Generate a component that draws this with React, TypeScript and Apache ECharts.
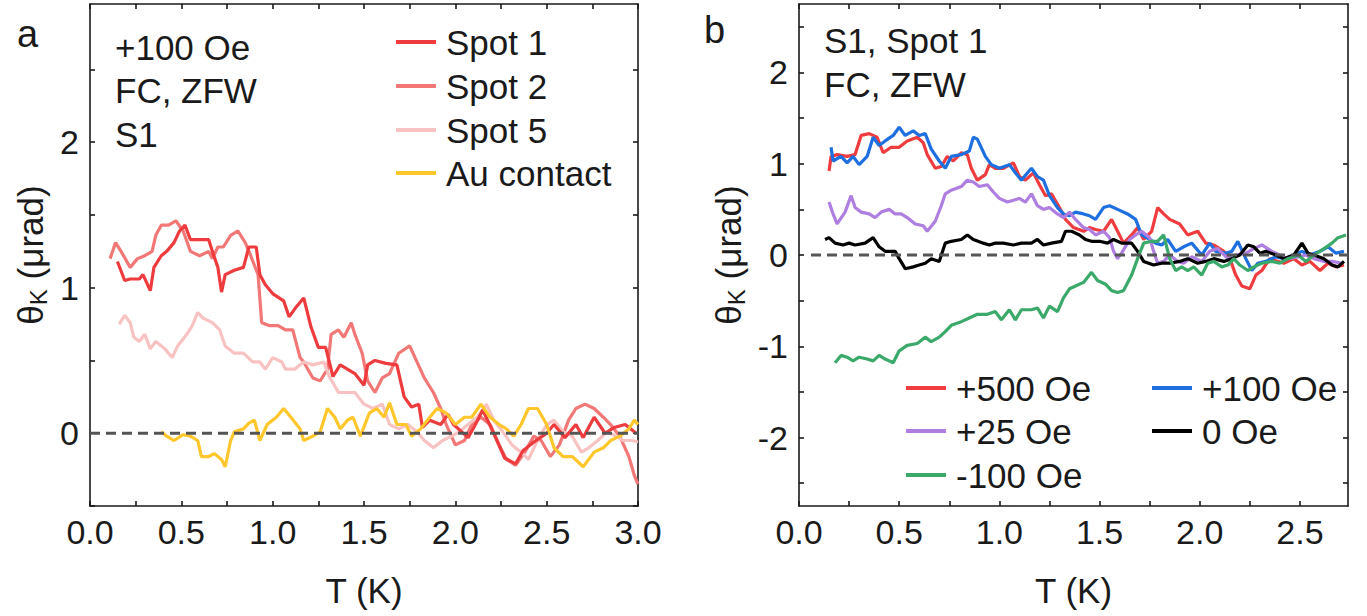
import React, { useEffect, useRef } from "react";
import * as echarts from "echarts";

const FONT = 'Arial, "Liberation Sans", Helvetica, sans-serif';

// ---------- Panel a data: [T (K), theta_K (µrad)] ----------
const spot1 = [[0.15,1.18],[0.19,1.05],[0.22,1.06],[0.27,1.06],[0.29,1.09],[0.33,0.98],[0.35,1.14],[0.39,1.22],[0.42,1.25],[0.46,1.31],[0.49,1.39],[0.52,1.43],[0.55,1.33],[0.60,1.33],[0.65,1.33],[0.67,1.25],[0.70,1.14],[0.72,0.97],[0.74,1.09],[0.79,1.12],[0.84,1.14],[0.87,1.28],[0.91,1.28],[0.93,1.09],[0.96,1.02],[1.00,0.96],[1.06,0.91],[1.09,0.80],[1.13,0.87],[1.17,0.93],[1.21,0.73],[1.25,0.59],[1.29,0.59],[1.33,0.39],[1.37,0.47],[1.45,0.41],[1.50,0.33],[1.52,0.47],[1.56,0.50],[1.62,0.48],[1.68,0.47],[1.72,0.25],[1.76,0.18],[1.80,0.20],[1.82,0.04],[1.86,0.09],[1.92,0.06],[1.96,0.13],[1.99,0.06],[2.07,-0.03],[2.11,0.06],[2.15,0.16],[2.21,0.00],[2.27,-0.17],[2.33,-0.21],[2.37,-0.12],[2.42,-0.07],[2.50,0.00],[2.54,0.06],[2.60,-0.03],[2.66,0.06],[2.70,-0.03],[2.76,0.11],[2.82,0.00],[2.87,0.04],[2.93,0.06],[2.99,0.00]];
const spot2 = [[0.11,1.20],[0.14,1.31],[0.17,1.25],[0.22,1.14],[0.26,1.20],[0.30,1.22],[0.34,1.25],[0.36,1.36],[0.39,1.43],[0.43,1.43],[0.47,1.46],[0.51,1.39],[0.55,1.25],[0.60,1.22],[0.65,1.25],[0.67,1.20],[0.70,1.28],[0.73,1.28],[0.77,1.36],[0.81,1.39],[0.85,1.31],[0.88,1.22],[0.92,1.09],[0.94,0.76],[0.98,0.74],[1.03,0.74],[1.07,0.71],[1.11,0.71],[1.15,0.52],[1.17,0.49],[1.22,0.38],[1.26,0.36],[1.30,0.44],[1.32,0.68],[1.36,0.71],[1.39,0.66],[1.43,0.76],[1.45,0.68],[1.49,0.55],[1.52,0.36],[1.56,0.28],[1.60,0.38],[1.64,0.41],[1.69,0.55],[1.75,0.60],[1.79,0.49],[1.83,0.38],[1.88,0.28],[1.92,0.17],[1.95,0.06],[2.00,-0.08],[2.05,-0.05],[2.09,0.06],[2.14,0.11],[2.19,0.06],[2.24,-0.08],[2.28,-0.18],[2.33,-0.22],[2.38,-0.13],[2.43,-0.02],[2.47,-0.05],[2.52,-0.16],[2.57,-0.08],[2.62,0.09],[2.66,0.17],[2.71,0.20],[2.76,0.17],[2.81,0.11],[2.85,0.06],[2.90,-0.02],[2.95,-0.16],[2.98,-0.29],[3.00,-0.35]];
const spot5 = [[0.16,0.75],[0.19,0.81],[0.22,0.76],[0.24,0.66],[0.27,0.63],[0.30,0.68],[0.33,0.58],[0.36,0.63],[0.41,0.58],[0.45,0.52],[0.48,0.60],[0.53,0.68],[0.56,0.74],[0.59,0.83],[0.62,0.79],[0.67,0.76],[0.71,0.71],[0.74,0.60],[0.79,0.55],[0.84,0.55],[0.89,0.49],[0.93,0.49],[0.96,0.44],[1.00,0.52],[1.05,0.49],[1.07,0.44],[1.12,0.44],[1.17,0.49],[1.22,0.47],[1.28,0.49],[1.31,0.39],[1.36,0.28],[1.41,0.28],[1.45,0.28],[1.50,0.20],[1.55,0.17],[1.60,0.20],[1.64,0.06],[1.69,0.03],[1.74,0.06],[1.79,0.01],[1.83,-0.05],[1.88,-0.10],[1.93,-0.05],[1.98,-0.02],[2.02,0.01],[2.07,0.06],[2.12,0.11],[2.17,0.20],[2.21,0.09],[2.26,0.01],[2.31,-0.08],[2.36,-0.13],[2.40,-0.18],[2.45,-0.05],[2.50,0.06],[2.54,0.09],[2.59,0.01],[2.64,-0.02],[2.69,-0.13],[2.73,-0.10],[2.78,-0.05],[2.83,0.01],[2.88,-0.02],[2.92,-0.05],[2.97,-0.05],[3.00,-0.06]];
const auContact = [[0.39,0.01],[0.42,-0.02],[0.46,-0.05],[0.51,-0.01],[0.55,-0.02],[0.59,-0.05],[0.61,-0.16],[0.65,-0.16],[0.68,-0.14],[0.72,-0.18],[0.74,-0.23],[0.77,-0.05],[0.79,0.01],[0.84,0.03],[0.87,0.07],[0.90,0.09],[0.93,-0.05],[0.97,0.06],[1.02,0.11],[1.06,0.17],[1.10,0.11],[1.15,0.03],[1.17,-0.05],[1.22,-0.02],[1.26,0.01],[1.30,0.17],[1.34,0.11],[1.37,0.03],[1.41,0.09],[1.44,0.11],[1.48,-0.02],[1.53,0.14],[1.57,0.17],[1.61,0.11],[1.64,0.21],[1.68,0.06],[1.73,0.06],[1.76,-0.02],[1.81,0.03],[1.86,0.11],[1.90,0.17],[1.95,0.14],[2.00,0.06],[2.05,0.11],[2.09,0.11],[2.14,0.20],[2.19,0.11],[2.24,0.06],[2.28,0.03],[2.32,-0.02],[2.36,0.06],[2.40,0.17],[2.45,0.17],[2.50,0.06],[2.54,-0.10],[2.59,-0.16],[2.64,-0.16],[2.70,-0.23],[2.76,-0.13],[2.81,-0.10],[2.85,-0.05],[2.90,-0.02],[2.95,0.03],[2.98,0.09],[3.00,0.06]];
const zeroA = [[0,0],[3,0]];

// ---------- Panel b data ----------
const oe500 = [[0.15,0.92],[0.16,1.08],[0.19,1.10],[0.24,1.08],[0.28,1.10],[0.31,1.31],[0.35,1.33],[0.39,1.29],[0.42,1.12],[0.46,1.18],[0.50,1.18],[0.54,1.25],[0.59,1.29],[0.62,1.23],[0.64,1.10],[0.68,0.95],[0.71,0.97],[0.74,1.08],[0.77,1.03],[0.81,1.12],[0.84,1.10],[0.86,0.95],[0.89,0.82],[0.93,0.88],[0.95,0.99],[0.98,0.95],[1.02,0.95],[1.07,1.01],[1.10,0.86],[1.13,0.82],[1.17,0.90],[1.20,0.77],[1.23,0.65],[1.26,0.67],[1.30,0.52],[1.33,0.39],[1.37,0.30],[1.42,0.26],[1.45,0.30],[1.48,0.28],[1.52,0.26],[1.56,0.39],[1.59,0.26],[1.62,0.13],[1.66,0.22],[1.69,0.30],[1.72,0.17],[1.76,0.26],[1.79,0.52],[1.82,0.45],[1.85,0.39],[1.90,0.34],[1.94,0.22],[1.99,0.26],[2.03,0.13],[2.07,0.11],[2.12,0.04],[2.15,-0.04],[2.18,-0.22],[2.21,-0.34],[2.25,-0.37],[2.28,-0.22],[2.31,-0.17],[2.35,-0.04],[2.39,-0.07],[2.42,-0.09],[2.47,-0.04],[2.51,-0.11],[2.55,-0.07],[2.60,-0.17],[2.64,-0.09],[2.68,-0.13],[2.72,-0.11]];
const oe100 = [[0.16,1.18],[0.17,1.03],[0.21,1.08],[0.24,1.01],[0.27,1.08],[0.30,0.99],[0.34,1.08],[0.37,1.29],[0.40,1.20],[0.43,1.25],[0.47,1.31],[0.50,1.40],[0.53,1.31],[0.57,1.36],[0.60,1.31],[0.63,1.33],[0.66,1.16],[0.70,1.03],[0.73,0.95],[0.76,1.08],[0.81,1.10],[0.85,1.14],[0.87,1.29],[0.89,1.27],[0.93,1.08],[0.96,0.99],[1.00,0.95],[1.05,0.99],[1.08,0.90],[1.11,0.82],[1.16,0.95],[1.19,0.86],[1.22,0.82],[1.25,0.65],[1.29,0.52],[1.32,0.45],[1.35,0.43],[1.38,0.47],[1.42,0.45],[1.45,0.43],[1.48,0.39],[1.52,0.52],[1.55,0.54],[1.59,0.50],[1.64,0.45],[1.68,0.39],[1.71,0.22],[1.75,0.17],[1.78,0.13],[1.81,0.11],[1.84,0.17],[1.88,0.04],[1.92,0.09],[1.96,0.13],[2.01,0.00],[2.05,0.13],[2.08,0.04],[2.13,0.02],[2.16,0.04],[2.19,0.15],[2.23,-0.04],[2.26,-0.17],[2.29,-0.09],[2.33,-0.07],[2.38,-0.02],[2.42,-0.04],[2.47,0.00],[2.51,0.04],[2.55,0.00],[2.60,0.04],[2.64,0.09],[2.68,0.02],[2.72,0.04]];
const oe25 = [[0.15,0.58],[0.17,0.45],[0.19,0.34],[0.23,0.47],[0.26,0.65],[0.28,0.52],[0.31,0.47],[0.35,0.45],[0.38,0.41],[0.41,0.47],[0.45,0.50],[0.48,0.45],[0.51,0.45],[0.54,0.41],[0.58,0.34],[0.62,0.32],[0.64,0.26],[0.68,0.37],[0.71,0.54],[0.73,0.67],[0.76,0.71],[0.81,0.75],[0.84,0.82],[0.87,0.80],[0.90,0.75],[0.94,0.77],[0.97,0.69],[1.00,0.62],[1.04,0.58],[1.07,0.60],[1.10,0.62],[1.13,0.58],[1.16,0.67],[1.19,0.54],[1.22,0.50],[1.25,0.52],[1.29,0.45],[1.32,0.41],[1.35,0.47],[1.38,0.39],[1.42,0.30],[1.45,0.28],[1.48,0.22],[1.52,0.26],[1.55,0.19],[1.57,0.04],[1.59,-0.04],[1.61,0.02],[1.65,0.17],[1.68,0.22],[1.71,0.26],[1.75,0.19],[1.77,0.04],[1.79,-0.09],[1.82,-0.07],[1.85,0.00],[1.89,-0.07],[1.92,-0.09],[1.96,-0.02],[2.01,-0.07],[2.05,0.04],[2.09,0.07],[2.14,-0.04],[2.18,0.00],[2.23,0.02],[2.27,0.07],[2.31,0.11],[2.36,0.04],[2.40,0.00],[2.44,-0.04],[2.49,-0.02],[2.53,0.00],[2.57,-0.04],[2.62,-0.07],[2.66,-0.07],[2.71,-0.09]];
const oe0 = [[0.13,0.17],[0.15,0.19],[0.18,0.13],[0.22,0.11],[0.25,0.13],[0.28,0.11],[0.33,0.13],[0.37,0.19],[0.40,0.09],[0.43,0.04],[0.48,0.04],[0.50,-0.04],[0.53,-0.15],[0.57,-0.13],[0.60,-0.11],[0.63,-0.09],[0.66,-0.04],[0.70,-0.07],[0.73,0.13],[0.76,0.15],[0.81,0.17],[0.84,0.22],[0.87,0.17],[0.92,0.13],[0.95,0.11],[0.98,0.13],[1.02,0.13],[1.07,0.11],[1.11,0.13],[1.16,0.13],[1.19,0.17],[1.22,0.11],[1.26,0.13],[1.31,0.15],[1.33,0.26],[1.36,0.26],[1.40,0.22],[1.43,0.17],[1.46,0.15],[1.50,0.15],[1.54,0.13],[1.57,0.17],[1.61,0.13],[1.66,0.13],[1.69,0.04],[1.72,-0.07],[1.77,-0.11],[1.81,-0.09],[1.85,-0.09],[1.90,-0.07],[1.94,-0.04],[1.99,-0.09],[2.03,-0.07],[2.07,-0.04],[2.12,-0.07],[2.16,-0.04],[2.20,0.00],[2.24,0.11],[2.27,0.09],[2.30,0.02],[2.33,0.04],[2.38,0.00],[2.42,-0.04],[2.47,0.00],[2.51,0.13],[2.54,0.02],[2.57,0.00],[2.62,-0.04],[2.66,-0.11],[2.69,-0.13],[2.72,-0.07]];
const oeMinus100 = [[0.18,-1.18],[0.21,-1.10],[0.24,-1.12],[0.27,-1.16],[0.30,-1.12],[0.34,-1.14],[0.37,-1.16],[0.40,-1.10],[0.43,-1.14],[0.47,-1.18],[0.50,-1.05],[0.54,-0.99],[0.59,-0.97],[0.63,-0.90],[0.66,-0.95],[0.70,-0.90],[0.73,-0.84],[0.76,-0.77],[0.81,-0.73],[0.85,-0.69],[0.89,-0.65],[0.94,-0.65],[0.98,-0.62],[1.01,-0.71],[1.05,-0.60],[1.08,-0.71],[1.11,-0.60],[1.16,-0.60],[1.19,-0.58],[1.22,-0.69],[1.25,-0.56],[1.29,-0.62],[1.32,-0.47],[1.35,-0.37],[1.38,-0.34],[1.42,-0.30],[1.46,-0.19],[1.49,-0.28],[1.53,-0.32],[1.56,-0.39],[1.59,-0.41],[1.62,-0.39],[1.66,-0.22],[1.69,-0.04],[1.72,0.13],[1.76,0.15],[1.79,0.15],[1.82,0.22],[1.85,-0.04],[1.88,-0.17],[1.91,-0.13],[1.94,-0.17],[1.97,-0.13],[2.01,-0.22],[2.04,-0.09],[2.07,-0.07],[2.11,-0.13],[2.14,-0.11],[2.17,-0.04],[2.20,-0.11],[2.24,-0.17],[2.27,-0.13],[2.31,-0.09],[2.36,-0.07],[2.40,-0.09],[2.44,-0.04],[2.49,0.00],[2.53,-0.07],[2.57,0.00],[2.62,0.07],[2.66,0.13],[2.69,0.19],[2.73,0.22]];
const zeroB = [[0.06,0],[2.74,0]];

// ---------- Axis ticks and labels ----------
const xTicksA = [0,0.25,0.5,0.75,1,1.25,1.5,1.75,2,2.25,2.5,2.75,3];
const xLabelsA = [0,0.5,1,1.5,2,2.5,3];
const yTicksA = [-0.5,0,0.5,1,1.5,2,2.5];
const yLabelsA = [0,1,2];
const xTicksB = [0,0.25,0.5,0.75,1,1.25,1.5,1.75,2,2.25,2.5];
const xLabelsB = [0,0.5,1,1.5,2,2.5];
const yTicksB = [-2.5,-2,-1.5,-1,-0.5,0,0.5,1,1.5,2,2.5];
const yLabelsB = [-2,-1,0,1,2];

const AXIS_COLOR = "#1a1a1a";
const TEXT_COLOR = "#1a1a1a";
const LABEL_SIZE = 34;
const TEXT_SIZE = 35;

function makeAxis(opts: any) {
  const { gridIndex, position, min, max, ticks, labels, fmt, name, nameGap, isX } = opts;
  const showLabels = !!labels;
  const ax: any = {
    type: "value",
    gridIndex,
    position,
    min,
    max,
    splitLine: { show: false },
    axisLine: { show: true, onZero: false, lineStyle: { color: AXIS_COLOR, width: 1.6 } },
    axisTick: {
      show: true,
      inside: true,
      length: 5,
      customValues: ticks,
      lineStyle: { color: AXIS_COLOR, width: 1.6 },
    },
    axisLabel: showLabels
      ? {
          show: true,
          customValues: labels,
          formatter: fmt,
          fontSize: LABEL_SIZE,
          fontFamily: FONT,
          color: TEXT_COLOR,
          margin: isX ? 9 : 11,
        }
      : { show: false },
  };
  if (name) {
    ax.name = name;
    ax.nameLocation = "middle";
    ax.nameGap = nameGap;
    ax.nameTextStyle = isX
      ? { fontSize: TEXT_SIZE, fontFamily: FONT, color: TEXT_COLOR, lineHeight: 40 }
      : {
          fontFamily: FONT,
          color: TEXT_COLOR,
          rich: {
            t: { fontSize: TEXT_SIZE, fontFamily: FONT, color: TEXT_COLOR, lineHeight: 40 },
            s: { fontSize: 24, fontFamily: FONT, color: TEXT_COLOR, lineHeight: 24, verticalAlign: "bottom" },
          },
        };
  }
  return ax;
}

const fmtX = (v: number) => v.toFixed(1);
const fmtY = (v: number) => String(Math.round(v));

function lineSeries(name: string, data: number[][], color: string, xi: number, yi: number, z = 2) {
  return {
    name,
    type: "line",
    data,
    xAxisIndex: xi,
    yAxisIndex: yi,
    symbol: "none",
    showSymbol: false,
    smooth: false,
    z,
    lineStyle: { color, width: 3.2 },
    itemStyle: { color },
    emphasis: { disabled: true },
  };
}

function legendItem(name: string, left: number, top: number) {
  return {
    data: [name],
    left,
    top,
    padding: 0,
    icon: "rect",
    itemWidth: 40,
    itemHeight: 4,
    selectedMode: false,
    textStyle: { fontSize: TEXT_SIZE, fontFamily: FONT, color: TEXT_COLOR, lineHeight: 36, padding: [0, 0, 0, 5] },
  };
}

function txt(text: string, x: number, y: number, size = TEXT_SIZE) {
  return {
    type: "text",
    x,
    y,
    silent: true,
    style: { text, fontSize: size, fontFamily: FONT, fill: TEXT_COLOR, align: "left", verticalAlign: "middle" },
  };
}

const C = {
  spot1: "#EE3B3E",
  spot2: "#F27777",
  spot5: "#F9C2C2",
  au: "#FFC72C",
  oe500: "#EF3D3F",
  oe100: "#1E6FDF",
  oe25: "#AE7EE0",
  oe0: "#000000",
  oeM100: "#3AA96A",
  zero: "#555555",
};

export default function App() {
  const ref = useRef<HTMLDivElement>(null);
  useEffect(() => {
    if (!ref.current) return;
    const chart = echarts.init(ref.current, null, { renderer: "svg" });
    const yName = "{t|θ}{s|K}{t| (μrad)}";
    const option: any = {
      animation: false,
      backgroundColor: "#ffffff",
      textStyle: { fontFamily: FONT },
      grid: [
        { left: 90, top: 4, width: 548, height: 502, containLabel: false },
        { left: 799, top: 4, width: 549, height: 502, containLabel: false },
      ],
      xAxis: [
        makeAxis({ gridIndex: 0, position: "bottom", min: 0, max: 3, ticks: xTicksA, labels: xLabelsA, fmt: fmtX, name: "T (K)", nameGap: 64, isX: true }),
        makeAxis({ gridIndex: 0, position: "top", min: 0, max: 3, ticks: xTicksA, isX: true }),
        makeAxis({ gridIndex: 1, position: "bottom", min: 0, max: 2.74, ticks: xTicksB, labels: xLabelsB, fmt: fmtX, name: "T (K)", nameGap: 64, isX: true }),
        makeAxis({ gridIndex: 1, position: "top", min: 0, max: 2.74, ticks: xTicksB, isX: true }),
      ],
      yAxis: [
        makeAxis({ gridIndex: 0, position: "left", min: -0.5, max: 2.95, ticks: yTicksA, labels: yLabelsA, fmt: fmtY, name: yName, nameGap: 40 }),
        makeAxis({ gridIndex: 0, position: "right", min: -0.5, max: 2.95, ticks: yTicksA }),
        makeAxis({ gridIndex: 1, position: "left", min: -2.75, max: 2.75, ticks: yTicksB, labels: yLabelsB, fmt: fmtY, name: yName, nameGap: 51 }),
        makeAxis({ gridIndex: 1, position: "right", min: -2.75, max: 2.75, ticks: yTicksB }),
      ],
      legend: [
        legendItem("Spot 1", 396, 24),
        legendItem("Spot 2", 396, 68),
        legendItem("Spot 5", 396, 112),
        legendItem("Au contact", 396, 155),
        legendItem("+500 Oe", 906, 370),
        legendItem("+100 Oe", 1152, 370),
        legendItem("+25 Oe", 906, 413),
        legendItem("0 Oe", 1152, 413),
        legendItem("-100 Oe", 906, 457),
      ],
      graphic: [
        txt("a", 17, 34, 38),
        txt("+100 Oe", 115, 47),
        txt("FC, ZFW", 115, 90),
        txt("S1", 115, 134),
        txt("b", 704, 30, 38),
        txt("S1, Spot 1", 824, 40),
        txt("FC, ZFW", 824, 84),
      ],
      series: [
        lineSeries("Spot 2", spot2, C.spot2, 0, 0, 2),
        lineSeries("Spot 1", spot1, C.spot1, 0, 0, 3),
        lineSeries("Spot 5", spot5, C.spot5, 0, 0, 2),
        lineSeries("Au contact", auContact, C.au, 0, 0, 4),
        {
          name: "zeroA",
          type: "line",
          data: zeroA,
          xAxisIndex: 0,
          yAxisIndex: 0,
          symbol: "none",
          silent: true,
          z: 6,
          lineStyle: { color: C.zero, width: 3, type: [10, 6] },
        },
        lineSeries("+500 Oe", oe500, C.oe500, 2, 2, 2),
        lineSeries("+100 Oe", oe100, C.oe100, 2, 2, 3),
        lineSeries("+25 Oe", oe25, C.oe25, 2, 2, 3),
        lineSeries("0 Oe", oe0, C.oe0, 2, 2, 4),
        lineSeries("-100 Oe", oeMinus100, C.oeM100, 2, 2, 4),
        {
          name: "zeroB",
          type: "line",
          data: zeroB,
          xAxisIndex: 2,
          yAxisIndex: 2,
          symbol: "none",
          silent: true,
          z: 6,
          lineStyle: { color: C.zero, width: 3, type: [10, 6] },
        },
      ],
    };
    chart.setOption(option);
    return () => chart.dispose();
  }, []);
  return (
    <div
      ref={ref}
      style={{ position: "absolute", left: 0, top: 0, width: 1367, height: 616, background: "#fff" }}
    />
  );
}
